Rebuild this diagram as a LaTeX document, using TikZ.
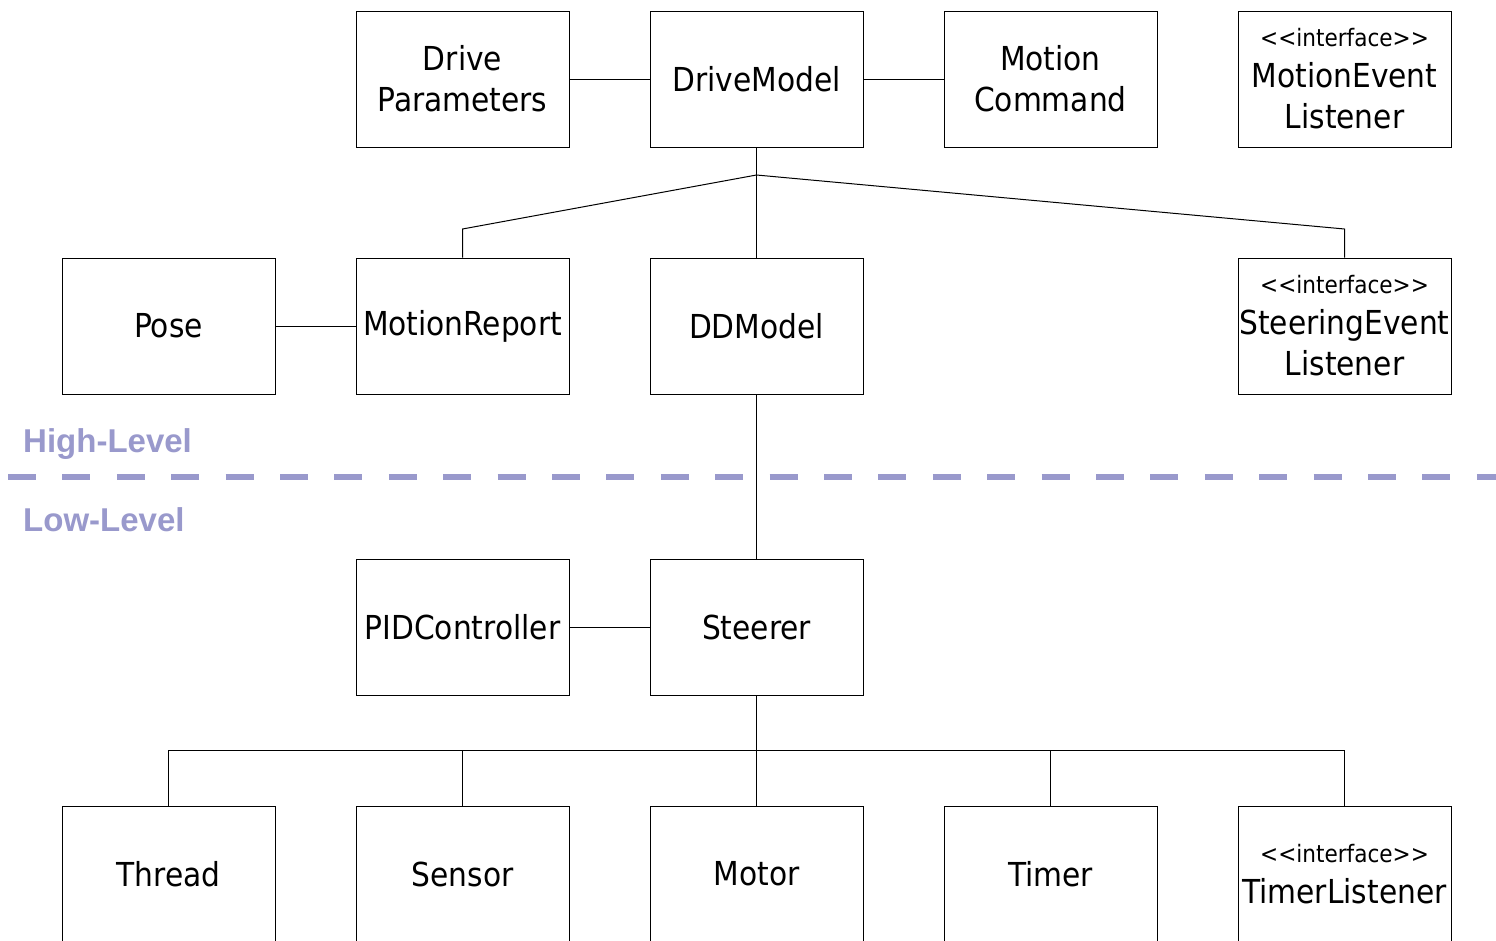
\documentclass[tikz,border=0pt]{standalone}
\usepackage{fontspec}
\newfontfamily\umlfont{DejaVu Sans Condensed}
\newfontfamily\lvlfont{Liberation Sans}
\definecolor{lvl}{HTML}{9999CC}
\newcommand\umlstereo{{\fontsize{24}{41}\selectfont <{}<interface>{}>}}
\tikzset{
  cls/.style={draw=black, line width=1pt, minimum width=213pt, minimum height=136pt,
    inner sep=0pt, align=center, font=\umlfont\fontsize{33}{41}\selectfont},
  conn/.style={draw=black, line width=1pt},
  lvllabel/.style={text=lvl, font=\lvlfont\bfseries\fontsize{33}{40}\selectfont, anchor=base west, inner sep=0pt},
  divider/.style={draw=lvl, line width=6pt, dash pattern=on 28pt off 26.4pt}
}
\begin{document}
\begin{tikzpicture}[x=1pt,y=-1pt]
\useasboundingbox (0,0) rectangle (1496,940);
\clip (0,0) rectangle (1496,940);
\fill[white] (0,0) rectangle (1496,940);

% level divider and labels
\coordinate (divL) at (8,477);
\coordinate (divR) at (1496,477);
\draw[divider] (divL) -- (divR);
\node[lvllabel] (high) at (23,452) {High-Level};
\node[lvllabel] (low) at (23,531) {Low-Level};

% row 1
\node[cls] (dp) at (462.5,79) {Drive\\Parameters};
\node[cls] (dm) at (756.5,79) {DriveModel};
\node[cls] (mc) at (1050.5,79) {Motion\\Command};
\node[cls] (mel) at (1344.5,79) {\umlstereo\\MotionEvent\\Listener};
% row 2
\node[cls] (pose) at (168.5,326) {Pose};
\node[cls] (mr) at (462.5,326) {MotionReport};
\node[cls] (ddm) at (756.5,326) {DDModel};
\node[cls] (sel) at (1344.5,326) {\umlstereo\\SteeringEvent\\Listener};
% row 3
\node[cls] (pid) at (462.5,627) {PIDController};
\node[cls] (st) at (756.5,627) {Steerer};
% row 4
\node[cls] (th) at (168.5,874) {Thread};
\node[cls] (se) at (462.5,874) {Sensor};
\node[cls] (mo) at (756.5,874) {Motor};
\node[cls] (ti) at (1050.5,874) {Timer};
\node[cls] (tl) at (1344.5,874) {\umlstereo\\TimerListener};

% junctions
\coordinate (j1) at (756.5,175);
\coordinate (j1L) at (462.5,229);
\coordinate (j1R) at (1344.5,229);
\coordinate (j2) at (756.5,750);
\coordinate (j2L) at (168.5,750);
\coordinate (j2R) at (1344.5,750);

% connectors
\draw[conn] (dp.east) -- (dm.west);
\draw[conn] (dm.east) -- (mc.west);
\draw[conn] (dm.south) -- (j1) -- (ddm.north);
\draw[conn] (j1) -- (j1L) -- (mr.north);
\draw[conn] (j1) -- (j1R) -- (sel.north);
\draw[conn] (pose.east) -- (mr.west);
\draw[conn] (ddm.south) -- (st.north);
\draw[conn] (pid.east) -- (st.west);
\draw[conn] (st.south) -- (j2);
\draw[conn] (j2L) -- (j2R);
\draw[conn] (j2L) -- (th.north);
\draw[conn] (se.north |- j2) -- (se.north);
\draw[conn] (j2) -- (mo.north);
\draw[conn] (ti.north |- j2) -- (ti.north);
\draw[conn] (j2R) -- (tl.north);
\end{tikzpicture}
\end{document}
